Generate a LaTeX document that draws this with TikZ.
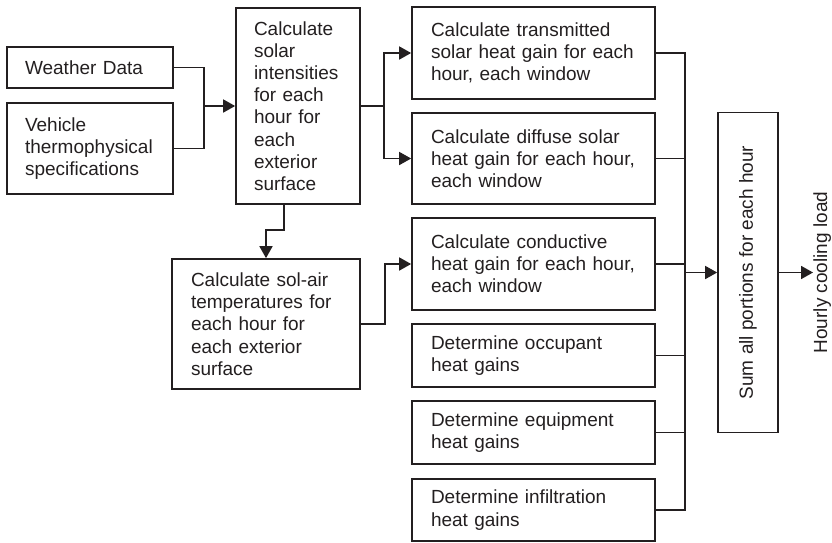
\documentclass[tikz,border=0pt]{standalone}
\usepackage{fontspec}
\setmainfont{Liberation Sans}
\usetikzlibrary{arrows.meta}
\definecolor{ink}{RGB}{35,31,32}
\begin{document}
\begin{tikzpicture}[x=1pt,y=-1pt,
  box/.style={draw=ink, line width=1.7pt, inner ysep=0pt, align=left, text=ink,
    font=\fontsize{19}{22.2}\selectfont},
  arr/.style={draw=ink, line width=1.7pt, -{Triangle[length=12pt,width=13pt]}},
  ln/.style={draw=ink, line width=1.7pt}]
\useasboundingbox (0,0) rectangle (832,542);

% left column
\node[box, text width=130pt, inner xsep=18pt, minimum height=41pt] (weather) at (90,67.5) {Weather Data};
\node[box, text width=130pt, inner xsep=18pt, minimum height=91pt] (vehicle) at (90,148.5) {Vehicle\\thermophysical\\specifications};

% solar and sol-air
\node[box, text width=88pt, inner xsep=18pt, minimum height=196pt] (solar) at (298,106) {Calculate\\solar\\intensities\\for each\\hour for\\each\\exterior\\surface};
\node[box, text width=150pt, inner xsep=19pt, minimum height=130pt] (solair) at (266,324) {Calculate sol-air\\temperatures for\\each hour for\\each exterior\\surface};

% gain boxes
\node[box, text width=205pt, inner xsep=19pt, minimum height=92pt] (trans) at (533.5,53) {Calculate transmitted\\solar heat gain for each\\hour, each window};
\node[box, text width=205pt, inner xsep=19pt, minimum height=91pt] (diff) at (533.5,158.5) {Calculate diffuse solar\\heat gain for each hour,\\each window};
\node[box, text width=205pt, inner xsep=19pt, minimum height=92pt] (cond) at (533.5,264) {Calculate conductive\\heat gain for each hour,\\each window};
\node[box, text width=205pt, inner xsep=19pt, minimum height=63pt] (occ) at (533.5,355.5) {Determine occupant\\heat gains};
\node[box, text width=205pt, inner xsep=19pt, minimum height=63pt] (equip) at (533.5,432.5) {Determine equipment\\heat gains};
\node[box, text width=205pt, inner xsep=19pt, minimum height=62pt] (infil) at (533.5,510) {Determine infiltration\\heat gains};

% sum and output
\node[box, rotate=90, minimum width=320pt, minimum height=60pt, inner sep=0pt] (sum) at (748,272.5) {Sum all portions for each hour};
\node[rotate=90, anchor=base, inner sep=0pt, text=ink, font=\fontsize{19}{22.2}\selectfont] (load) at (827,272.5) {Hourly cooling load};

% connectors
\coordinate (j1) at (204,106);
\draw[ln] (weather.east) -| (j1) |- (vehicle.east);
\draw[arr] (j1) -- (solar.west);

\coordinate (j2) at (384,106);
\draw[ln] (solar.east) -- (j2);
\draw[arr] (j2) |- (trans.west);
\draw[arr] (j2) |- (diff.west);

\coordinate (s1) at (284,230);
\draw[arr] (solar.south -| s1) -- (s1) -| (solair.north);

\draw[arr] (solair.east) -- ++(24,0) |- (cond.west);

\coordinate (bus) at (685,272.5);
\draw[ln] (trans.east) -- (trans.east -| bus) -- (infil.east -| bus) -- (infil.east);
\draw[ln] (diff.east) -- (diff.east -| bus);
\draw[ln] (cond.east) -- (cond.east -| bus);
\draw[ln] (occ.east) -- (occ.east -| bus);
\draw[ln] (equip.east) -- (equip.east -| bus);
\draw[arr] (bus) -- (sum.north);
\draw[arr] (sum.south) -- (load.north);
\end{tikzpicture}
\end{document}
